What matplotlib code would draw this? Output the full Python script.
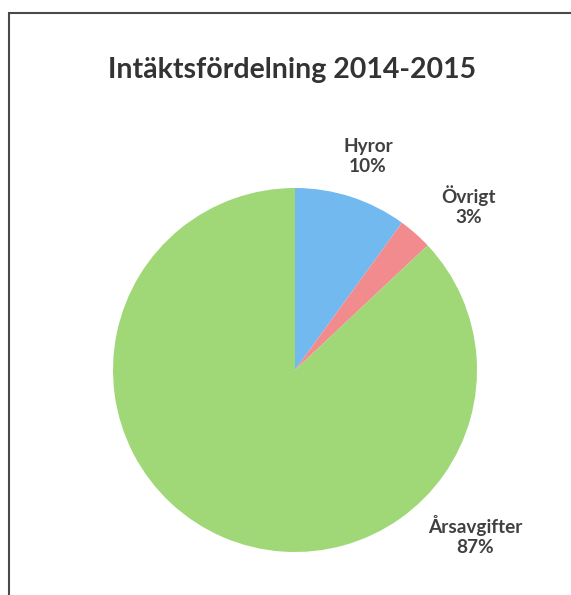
import matplotlib
matplotlib.use("Agg")
import matplotlib.pyplot as plt
from matplotlib.patches import Rectangle

# Data
labels = ["Hyror", "Övrigt", "Årsavgifter"]
shares = [10, 3, 87]
colors = ["#72b9ef", "#f28b8e", "#a0d877"]
title = "Intäktsfördelning 2014-2015"

# label positions in pixels (x centre, last baseline from top)
label_pos = [(368, 172), (469, 223), (475, 553)]

W, H = 571, 595
fig = plt.figure(figsize=(W / 100, H / 100), dpi=100)
fig.patch.set_facecolor("white")

# frame of the chart (cropped on right and bottom)
fig.patches.append(Rectangle((9 / W, -0.1), 1.2, (H - 13) / H + 0.1,
                             transform=fig.transFigure, fill=False,
                             edgecolor="#4a4a4a", linewidth=1.5))

cx, cy, r = 295, 370, 182
ax = fig.add_axes([(cx - r) / W, (H - cy - r) / H, 2 * r / W, 2 * r / H])
ax.pie(shares, colors=colors, startangle=90, counterclock=False,
       wedgeprops=dict(linewidth=0))
ax.set_xlim(-1, 1)
ax.set_ylim(-1, 1)
ax.set_aspect("equal")
ax.axis("off")

fig.text(292 / W, 1 - 78 / H, title, ha="center", va="baseline",
         fontsize=20.5, fontweight="bold", color="#333333", family="Lato")

for name, val, (px, py) in zip(labels, shares, label_pos):
    fig.text(px / W, 1 - py / H, f"{name}\n{val}%", ha="center", va="baseline",
             fontsize=13.7, fontweight="bold", color="#404040", family="Lato",
             linespacing=1.2)

fig.savefig("out.png", dpi=100)
